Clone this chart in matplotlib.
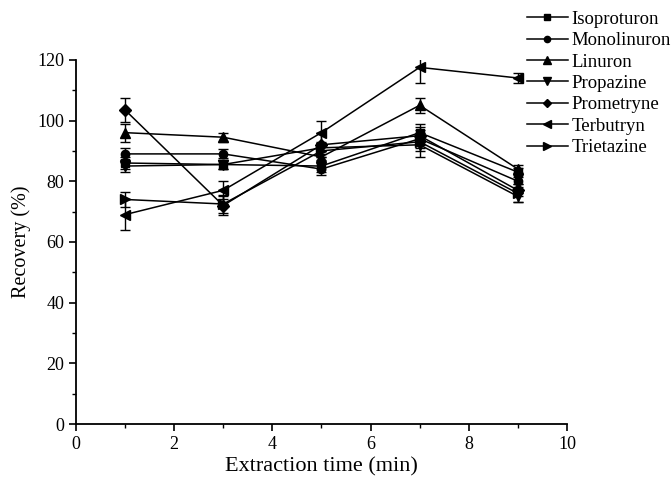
import matplotlib
matplotlib.use("Agg")
import matplotlib.pyplot as plt
from matplotlib.ticker import MultipleLocator
from matplotlib.lines import Line2D

plt.rcParams['font.family'] = ['Liberation Serif', 'DejaVu Serif']

time_min = [1, 3, 5, 7, 9]
series_names = ["Isoproturon", "Monolinuron", "Linuron", "Propazine",
                "Prometryne", "Terbutryn", "Trietazine"]
isoproturon = [86, 85.5, 85, 96, 83]
monolinuron = [89, 89, 84, 94, 80]
linuron = [96, 94.5, 88, 105, 84]
propazine = [85, 85.5, 91, 92, 75]
prometryne = [103.5, 72, 92, 95, 77]
terbutryn = [69, 77, 96, 117.5, 114]
trietazine = [74, 72.5, 90, 93, 76]

isoproturon_err = [2, 1.5, 2, 3, 1.5]
monolinuron_err = [2, 1.5, 2, 3, 2]
linuron_err = [3, 1.5, 2, 2.5, 1.5]
propazine_err = [2, 1.5, 2, 4, 2]
prometryne_err = [4, 3, 4, 3, 2]
terbutryn_err = [5, 3, 4, 5, 1.5]
trietazine_err = [2.5, 3, 2, 3, 3]

values = [isoproturon, monolinuron, linuron, propazine, prometryne, terbutryn, trietazine]
errors = [isoproturon_err, monolinuron_err, linuron_err, propazine_err,
          prometryne_err, terbutryn_err, trietazine_err]
markers = ['s', 'o', '^', 'v', 'D', '<', '>']
msizes = [6, 6, 7, 7, 6, 7, 7]

fig = plt.figure(figsize=(6.71, 4.82), dpi=100)
ax = fig.add_axes([0.113, 0.120, 0.732, 0.756])

for name, v, e, m, ms in zip(series_names, values, errors, markers, msizes):
    ax.errorbar(time_min, v, yerr=e, color='black', marker=m, markersize=ms,
                linewidth=1.1, elinewidth=1.0, capsize=3.5, capthick=1.0,
                label=name)

ax.set_xlim(0, 10)
ax.set_ylim(0, 120)
ax.xaxis.set_major_locator(MultipleLocator(2))
ax.xaxis.set_minor_locator(MultipleLocator(1))
ax.yaxis.set_major_locator(MultipleLocator(20))
ax.yaxis.set_minor_locator(MultipleLocator(10))
ax.spines['top'].set_visible(False)
ax.spines['right'].set_visible(False)
for s in ['left', 'bottom']:
    ax.spines[s].set_linewidth(1.3)
ax.tick_params(which='major', direction='out', length=5, width=1.2, labelsize=13)
ax.tick_params(which='minor', direction='out', length=3, width=1.0)
ax.set_xlabel("Extraction time (min)", fontsize=16, labelpad=3)
ax.set_ylabel("Recovery (%)", fontsize=14.5)

leg_handles = [Line2D([0], [0], color='black', marker=m, markersize=ms - 1.5, linewidth=1.1)
               for m, ms in zip(markers, msizes)]
fig.legend(leg_handles, series_names, loc='upper left', bbox_to_anchor=(0.785, 0.978),
           frameon=False, fontsize=13.5, handlelength=2.2, handletextpad=0.2,
           labelspacing=0.23, borderaxespad=0, borderpad=0)

fig.savefig("out.png", dpi=100)
